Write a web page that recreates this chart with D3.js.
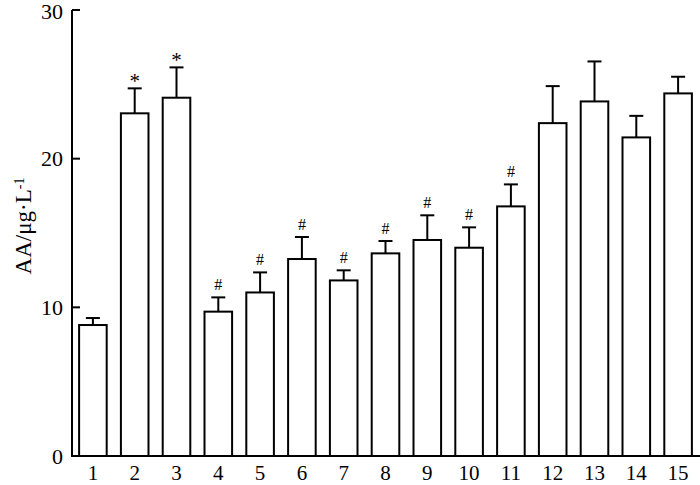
<!DOCTYPE html>
<html><head><meta charset="utf-8">
<script src="https://cdn.jsdelivr.net/npm/d3@7"></script>
<style>body{margin:0;background:#fff}svg{display:block}text{font-family:"Liberation Serif","Times New Roman",serif;fill:#000}</style>
</head><body><svg id="c" width="700" height="485"></svg>
<script>
const categories = ["1","2","3","4","5","6","7","8","9","10","11","12","13","14","15"];
const means = [8.81,23.05,24.1,9.71,11.0,13.25,11.81,13.63,14.53,14.01,16.79,22.39,23.85,21.43,24.39];
const errors = [0.47,1.68,2.04,0.96,1.35,1.48,0.68,0.83,1.66,1.37,1.48,2.49,2.69,1.45,1.12];
const marks = ["","*","*","#","#","#","#","#","#","#","#","","","",""];
const yTicks = [0,10,20,30];

const svg = d3.select("#c");
const x = d3.scaleBand().domain(categories).range([72,699]).paddingInner(0.34).paddingOuter(0.17);
const y = d3.scaleLinear().domain([0,30]).range([456,10]);

// axes
const yAxis = svg.append("g").attr("transform","translate(72,0)")
  .call(d3.axisLeft(y).tickValues(yTicks).tickSize(0).tickPadding(9));
yAxis.select(".domain").remove();
yAxis.selectAll("text").style("font-size","22px")
  .attr("dy",d=>d===30?"0.4em":"0.32em");
svg.append("g").selectAll("line").data(yTicks.filter(d=>d>0)).join("line")
  .attr("x1",72).attr("x2",80).attr("y1",d=>y(d)).attr("y2",d=>y(d))
  .attr("stroke","#000").attr("stroke-width",2);
svg.append("line").attr("x1",72).attr("x2",72).attr("y1",y(30)).attr("y2",y(0)+1).attr("stroke","#000").attr("stroke-width",2);
svg.append("line").attr("x1",71).attr("x2",700).attr("y1",y(0)).attr("y2",y(0)).attr("stroke","#000").attr("stroke-width",2);

const xAxis = svg.append("g").attr("transform","translate(0,456)")
  .call(d3.axisBottom(x).tickSize(0).tickPadding(9));
xAxis.select(".domain").remove();
xAxis.selectAll("text").style("font-size","21px");

// error bars
const g = svg.append("g");
categories.forEach((c,i)=>{
  const cx = x(c)+x.bandwidth()/2;
  g.append("line").attr("x1",cx).attr("x2",cx).attr("y1",y(means[i])).attr("y2",y(means[i]+errors[i])).attr("stroke","#000").attr("stroke-width",2);
  g.append("line").attr("x1",cx-7).attr("x2",cx+7).attr("y1",y(means[i]+errors[i])).attr("y2",y(means[i]+errors[i])).attr("stroke","#000").attr("stroke-width",2);
});
// bars
g.selectAll("rect").data(categories).join("rect")
  .attr("x",d=>x(d)).attr("width",x.bandwidth())
  .attr("y",(d,i)=>y(means[i])).attr("height",(d,i)=>y(0)-y(means[i]))
  .attr("fill","#fff").attr("stroke","#000").attr("stroke-width",2);

// significance marks
g.selectAll("text.m").data(categories).join("text").attr("class","m")
  .attr("x",d=>x(d)+x.bandwidth()/2)
  .attr("y",(d,i)=>y(means[i]+errors[i]) - (marks[i]==="*"? 0 : 7))
  .attr("text-anchor","middle")
  .style("font-size",(d,i)=>marks[i]==="*"?"21px":"16px")
  .text((d,i)=>marks[i]);

// y title
const t = svg.append("text").attr("transform","translate(31,226) rotate(-90)").attr("text-anchor","middle").style("font-size","23px");
t.append("tspan").text("AA/μg·L");
t.append("tspan").attr("baseline-shift","super").style("font-size","14px").text("-1");
</script></body></html>
